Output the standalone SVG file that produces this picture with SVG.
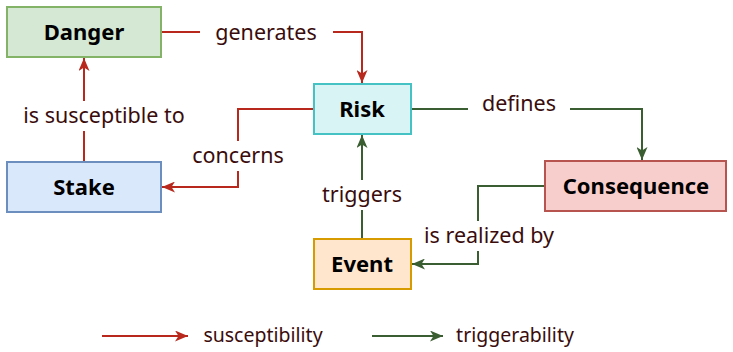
<svg xmlns="http://www.w3.org/2000/svg" width="733" height="352" viewBox="0 0 733 352">
<style>
.node rect{stroke-width:2}
.nt{font-family:"Noto Sans","Open Sans",sans-serif;font-weight:bold;font-size:22px;fill:#000;text-anchor:middle;dominant-baseline:central}
.lt{font-family:"Noto Sans","Open Sans",sans-serif;font-size:21.5px;fill:#3a0c0c;text-anchor:middle;dominant-baseline:central}
.lg{font-size:19.5px}
.red{fill:none;stroke:#b8281c;stroke-width:2}
.green{fill:none;stroke:#3a5e31;stroke-width:2}
.bg{fill:#fff}
</style>
<defs>
<marker id="ar" viewBox="0 0 13 11" refX="13" refY="5.5" markerWidth="13" markerHeight="11" markerUnits="userSpaceOnUse" orient="auto">
<path d="M0,0 L13,5.5 L0,11 L3.5,5.5 z" fill="#b8281c"/>
</marker>
<marker id="ag" viewBox="0 0 13 11" refX="13" refY="5.5" markerWidth="13" markerHeight="11" markerUnits="userSpaceOnUse" orient="auto">
<path d="M0,0 L13,5.5 L0,11 L3.5,5.5 z" fill="#3a5e31"/>
</marker>
</defs>
<rect width="733" height="352" fill="#fff"/>
<g id="connectors">
<path class="red" d="M161,32 H362 V83" marker-end="url(#ar)"/>
<path class="red" d="M84,162 V58" marker-end="url(#ar)"/>
<path class="red" d="M314,109 H238 V187 H162" marker-end="url(#ar)"/>
<path class="green" d="M411,109 H642 V160" marker-end="url(#ag)"/>
<path class="green" d="M362,239 V135" marker-end="url(#ag)"/>
<path class="green" d="M545,186 H478 V264 H412" marker-end="url(#ag)"/>
<rect class="bg" x="200" y="18" width="133" height="30"/>
<text class="lt" x="266" y="31">generates</text>
<rect class="bg" x="14" y="101" width="180" height="30"/>
<text class="lt" x="104" y="114">is susceptible to</text>
<rect class="bg" x="186" y="141" width="104" height="30"/>
<text class="lt" x="238" y="154">concerns</text>
<rect class="bg" x="468" y="89" width="102" height="30"/>
<text class="lt" x="519" y="102">defines</text>
<rect class="bg" x="318" y="180" width="88" height="30"/>
<text class="lt" x="362" y="193">triggers</text>
<rect class="bg" x="418" y="221" width="142" height="30"/>
<text class="lt" x="489" y="234">is realized by</text>
</g>
<g id="danger" class="node"><rect x="7" y="7" width="154" height="50" fill="#d5e8d4" stroke="#82b366"/><text class="nt" x="84" y="31">Danger</text></g>
<g id="risk" class="node"><rect x="314" y="84" width="97" height="50" fill="#d8f4f4" stroke="#45c3c4"/><text class="nt" x="362" y="108">Risk</text></g>
<g id="stake" class="node"><rect x="7" y="162" width="154" height="50" fill="#dae8fc" stroke="#6c8ebf"/><text class="nt" x="84" y="186">Stake</text></g>
<g id="consequence" class="node"><rect x="545" y="161" width="181" height="50" fill="#f8cecc" stroke="#b85450"/><text class="nt" x="636" y="185">Consequence</text></g>
<g id="event" class="node"><rect x="314" y="239" width="97" height="50" fill="#ffe6cc" stroke="#d79b00"/><text class="nt" x="362" y="263">Event</text></g>
<g id="legend">
<path class="red" d="M102,336 H188" marker-end="url(#ar)"/>
<text class="lt lg" x="263" y="334">susceptibility</text>
<path class="green" d="M372,336 H443" marker-end="url(#ag)"/>
<text class="lt lg" x="515" y="334">triggerability</text>
</g>
</svg>
